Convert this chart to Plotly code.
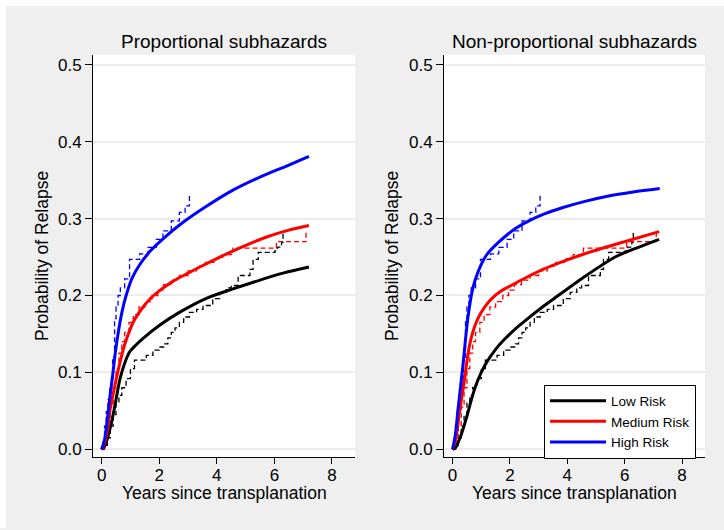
import plotly.graph_objects as go

# ---------------- data ----------------
# Empirical (non-parametric) cumulative incidence – step functions (same in both panels)
emp_low_t = [0, 0.1, 0.2, 0.3, 0.4, 0.5, 0.6, 0.7, 0.85, 1.0, 1.14, 1.55, 1.78, 2.0, 2.19, 2.3, 2.42, 2.55,
             2.7, 2.85, 3.05, 3.3, 3.52, 3.86, 4.1, 4.33, 4.5, 4.74, 5.15, 5.26, 5.44, 6.02, 6.1, 6.25, 6.3]
emp_low_v = [0, 0.005, 0.015, 0.03, 0.045, 0.06, 0.07, 0.08, 0.092, 0.105, 0.116, 0.122, 0.129, 0.133, 0.137,
             0.145, 0.152, 0.158, 0.165, 0.172, 0.178, 0.182, 0.187, 0.196, 0.204, 0.21, 0.213, 0.226, 0.234,
             0.247, 0.256, 0.258, 0.263, 0.269, 0.284]

emp_med_t = [0, 0.1, 0.2, 0.3, 0.4, 0.5, 0.6, 0.7, 0.8, 0.95, 1.1, 1.3, 1.5, 1.75, 1.95, 2.15, 2.4, 2.7, 3.0,
             3.3, 3.6, 3.9, 4.2, 4.56, 6.07, 7.1]
emp_med_v = [0, 0.01, 0.03, 0.055, 0.08, 0.105, 0.125, 0.14, 0.152, 0.165, 0.175, 0.185, 0.192, 0.2, 0.207,
             0.214, 0.22, 0.226, 0.232, 0.238, 0.243, 0.248, 0.253, 0.2615, 0.27, 0.282]

emp_high_t = [0, 0.05, 0.1, 0.16, 0.22, 0.28, 0.33, 0.38, 0.45, 0.5, 0.57, 0.65, 0.8, 0.97, 1.32, 1.61, 1.9,
              2.13, 2.42, 2.7, 2.9, 3.05]
emp_high_v = [0, 0.01, 0.03, 0.049, 0.065, 0.08, 0.092, 0.12, 0.17, 0.185, 0.2, 0.21, 0.2215, 0.247, 0.254,
              0.2625, 0.273, 0.284, 0.297, 0.308, 0.3165, 0.33]

# Proportional subhazards model predictions
ps_low_t = [0, 0.1, 0.2, 0.3, 0.42, 0.55, 0.64, 0.8, 0.97, 1.2, 1.43, 2.0, 2.7, 3.62, 4.56, 5.5, 6.3, 7.2]
ps_low_v = [0, 0.004, 0.014, 0.028, 0.049, 0.075, 0.092, 0.112, 0.1265, 0.136, 0.144, 0.161, 0.178, 0.196,
            0.2085, 0.22, 0.229, 0.237]
ps_med_t = [0, 0.1, 0.2, 0.28, 0.4, 0.51, 0.65, 0.79, 1.0, 1.15, 1.44, 1.72, 2.0, 2.5, 3.0, 3.41, 4.0, 4.57,
            5.73, 6.5, 7.2]
ps_med_v = [0, 0.008, 0.025, 0.049, 0.072, 0.092, 0.115, 0.135, 0.157, 0.169, 0.185, 0.197, 0.206, 0.219,
            0.229, 0.237, 0.248, 0.258, 0.276, 0.285, 0.291]
ps_high_t = [0, 0.1, 0.2, 0.3, 0.37, 0.48, 0.6, 0.72, 0.85, 1.05, 1.32, 1.72, 2.2, 2.75, 3.6, 4.56, 5.5, 6.4, 7.2]
ps_high_v = [0, 0.012, 0.04, 0.072, 0.092, 0.127, 0.157, 0.181, 0.2, 0.222, 0.24, 0.259, 0.276, 0.293, 0.315,
             0.337, 0.354, 0.368, 0.381]

# Non-proportional subhazards model predictions
nps_low_t = [0, 0.1, 0.18, 0.3, 0.42, 0.53, 0.65, 0.8, 1.0, 1.2, 1.5, 1.81, 2.2, 2.62, 3.1, 3.54, 4.56, 5.72,
             6.5, 7.2]
nps_low_v = [0, 0.002, 0.008, 0.019, 0.033, 0.047, 0.064, 0.082, 0.1, 0.114, 0.13, 0.143, 0.157, 0.17, 0.184,
             0.196, 0.2235, 0.251, 0.263, 0.273]
nps_med_t = [0, 0.1, 0.17, 0.24, 0.33, 0.42, 0.5, 0.59, 0.7, 0.88, 1.1, 1.34, 1.7, 2.04, 2.6, 3.19, 3.9, 4.58,
             5.72, 7.2]
nps_med_v = [0, 0.012, 0.028, 0.049, 0.07, 0.092, 0.115, 0.135, 0.152, 0.17, 0.184, 0.195, 0.206, 0.213, 0.224,
             0.2345, 0.245, 0.254, 0.267, 0.283]
nps_high_t = [0, 0.1, 0.18, 0.36, 0.53, 0.7, 0.88, 1.17, 1.57, 2.15, 2.66, 3.2, 3.82, 4.58, 5.4, 6.3, 7.22]
nps_high_v = [0, 0.02, 0.049, 0.109, 0.17, 0.2085, 0.23, 0.252, 0.268, 0.286, 0.297, 0.306, 0.314, 0.322,
              0.329, 0.3345, 0.339]

groups = ["Low Risk", "Medium Risk", "High Risk"]
colors = ["#000000", "#ff0000", "#0000ff"]

panel_titles = ["Proportional subhazards", "Non-proportional subhazards"]
x_title = "Years since transplanation"
y_title = "Probability of Relapse"
x_ticks = [0, 2, 4, 6, 8]
y_ticks = [0.0, 0.1, 0.2, 0.3, 0.4, 0.5]
y_ticktext = ["0.0", "0.1", "0.2", "0.3", "0.4", "0.5"]

emp = [(emp_low_t, emp_low_v), (emp_med_t, emp_med_v), (emp_high_t, emp_high_v)]
models = [
    [(ps_low_t, ps_low_v), (ps_med_t, ps_med_v), (ps_high_t, ps_high_v)],
    [(nps_low_t, nps_low_v), (nps_med_t, nps_med_v), (nps_high_t, nps_high_v)],
]

# ---------------- figure ----------------
W, H = 724, 530
FONT = "Liberation Sans, Arial, sans-serif"

fig = go.Figure()
axes = [("x", "y"), ("x2", "y2")]
for p, (xa, ya) in enumerate(axes):
    for g in range(3):
        t, v = emp[g]
        fig.add_trace(go.Scatter(x=t, y=v, mode="lines", xaxis=xa, yaxis=ya, showlegend=False,
                                 line=dict(color=colors[g], width=1.3, dash="5px,3px", shape="hv"),
                                 hoverinfo="skip"))
    for g in range(3):
        t, v = models[p][g]
        fig.add_trace(go.Scatter(x=t, y=v, mode="lines", xaxis=xa, yaxis=ya, name=groups[g],
                                 showlegend=(p == 1),
                                 line=dict(color=colors[g], width=3, shape="spline", smoothing=0.8)))

def px_x(px):
    return px / W

def px_y(py):
    return 1 - py / H

xdoms = [[px_x(93), px_x(355)], [px_x(444), px_x(705)]]
ydom = [px_y(459), px_y(55)]
xr = [-0.3, 8.8]
yr = [-0.01036, 0.51295]

common_x = dict(range=xr, tickmode="array", tickvals=x_ticks, showgrid=False, zeroline=False,
                showline=True, linecolor="#000000", linewidth=1, ticks="outside", ticklen=6,
                tickcolor="#000000", tickfont=dict(family=FONT, size=17, color="#000000"),
                ticklabelstandoff=-4, fixedrange=True)
common_y = dict(range=yr, tickmode="array", tickvals=y_ticks, ticktext=y_ticktext, showgrid=True,
                gridcolor="#ececec", gridwidth=1.5, zeroline=False, showline=True, linecolor="#000000",
                linewidth=1, ticks="outside", ticklen=7, tickcolor="#000000",
                tickfont=dict(family=FONT, size=17, color="#000000"), fixedrange=True)

fig.update_layout(
    width=W, height=H,
    margin=dict(l=0, r=0, t=0, b=0),
    paper_bgcolor="#efefef",
    plot_bgcolor="#ffffff",
    font=dict(family=FONT, color="#000000"),
    xaxis=dict(common_x, domain=xdoms[0], anchor="y"),
    yaxis=dict(common_y, domain=ydom, anchor="x"),
    xaxis2=dict(common_x, domain=xdoms[1], anchor="y2"),
    yaxis2=dict(common_y, domain=ydom, anchor="x2"),
    legend=dict(x=px_x(544), y=px_y(386), xanchor="left", yanchor="top",
                bgcolor="#ffffff", bordercolor="#000000", borderwidth=1,
                font=dict(family=FONT, size=13.5, color="#000000"),
                itemwidth=56, tracegroupgap=0),
    showlegend=True,
)

centers = [224, 574.5]
ytitle_x = [42, 392]
ann = []
for p in range(2):
    ann.append(dict(text=panel_titles[p], x=px_x(centers[p]), y=px_y(42), xref="paper", yref="paper",
                    xanchor="center", yanchor="middle", showarrow=False,
                    font=dict(family=FONT, size=19, color="#000000")))
    ann.append(dict(text=x_title, x=px_x(centers[p]), y=px_y(495), xref="paper", yref="paper",
                    xanchor="center", yanchor="middle", showarrow=False,
                    font=dict(family=FONT, size=17.5, color="#000000")))
    ann.append(dict(text=y_title, x=px_x(ytitle_x[p]), y=px_y(257), xref="paper", yref="paper",
                    xanchor="center", yanchor="middle", showarrow=False, textangle=-90,
                    font=dict(family=FONT, size=17.5, color="#000000")))
fig.update_layout(annotations=ann)

# white strips at left and top edge of the image
fig.update_layout(shapes=[
    dict(type="rect", xref="paper", yref="paper", x0=0, x1=px_x(6), y0=0, y1=1,
         fillcolor="#ffffff", line=dict(width=0)),
    dict(type="rect", xref="paper", yref="paper", x0=0, x1=1, y0=px_y(6), y1=1,
         fillcolor="#ffffff", line=dict(width=0)),
])

fig.write_html("out.html", config=dict(displayModeBar=False))
